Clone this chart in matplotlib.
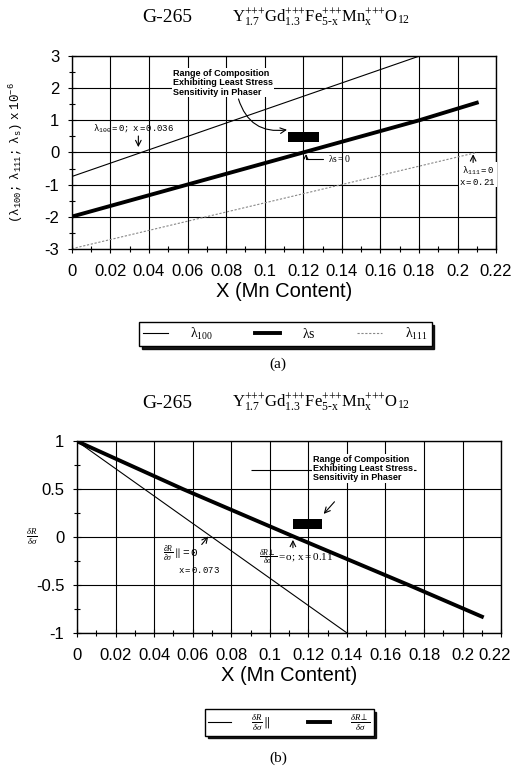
import numpy as np
import matplotlib.pyplot as plt
import matplotlib.transforms as mtransforms
from matplotlib.lines import Line2D
from matplotlib.ticker import FormatStrFormatter

plt.rcParams['font.family'] = ['Liberation Sans', 'DejaVu Sans']
plt.rcParams['mathtext.fontset'] = 'custom'
plt.rcParams['mathtext.rm'] = 'Liberation Serif'
plt.rcParams['mathtext.it'] = 'Liberation Serif:italic'
plt.rcParams['mathtext.bf'] = 'Liberation Serif:bold'
plt.rcParams['mathtext.tt'] = 'Liberation Mono'
plt.rcParams['mathtext.sf'] = 'Liberation Sans'

# (a) magnetostriction constants vs Mn content
x_l100 = [0.0, 0.18]
l100 = [-0.75, 3.0]
x_ls = [0.0, 0.06, 0.12, 0.18, 0.21]
ls = [-2.0, -1.0, 0.0, 1.0, 1.55]
x_l111 = [0.0, 0.21]
l111 = [-3.0, 0.0]
range_a_x = [0.112, 0.128]
range_a_y = [0.33, 0.64]

# (b) stress sensitivity vs Mn content
x_par = [0.0, 0.14]
dr_par = [1.0, -1.0]
x_perp = [0.0, 0.055, 0.113, 0.172, 0.21]
dr_perp = [1.0, 0.5, 0.0, -0.5, -0.83]
range_b_x = [0.112, 0.127]
range_b_y = [0.08, 0.19]

formula = (r'$\mathrm{Y^{\text{+++}}_{1.7}Gd^{\text{+++}}_{1.3}Fe^{\text{+++}}_{5\text{-}x}'
           r'Mn^{\text{+++}}_{x}O_{12}}$')
range_txt = 'Range of Composition\nExhibiting Least Stress\nSensitivity in Phaser'
narrow = ['Liberation Sans Narrow', 'Liberation Sans']

fig = plt.figure(figsize=(5.13, 7.70), dpi=100)
ax1 = fig.add_axes([0.140, 0.677, 0.827, 0.250])
ax2 = fig.add_axes([0.150, 0.178, 0.827, 0.249])


def setup(ax, ylim, ymajor, yminor):
    ax.set_xlim(0, 0.22)
    ax.set_ylim(*ylim)
    ax.set_xticks(np.arange(0, 0.2201, 0.02))
    ax.set_xticks(np.arange(0.01, 0.22, 0.02), minor=True)
    ax.set_yticks(ymajor)
    ax.set_yticks(yminor, minor=True)
    ax.xaxis.set_major_formatter(FormatStrFormatter('%g'))
    ax.yaxis.set_major_formatter(FormatStrFormatter('%g'))
    ax.grid(which='major', color='black', lw=0.8)
    ax.tick_params(which='major', direction='inout', length=6, width=0.8,
                   labelsize=12)
    ax.tick_params(which='minor', direction='inout', length=4, width=0.8)
    ax.tick_params(axis='x', pad=8)
    ax.tick_params(axis='y', pad=6)
    for s in ax.spines.values():
        s.set_linewidth(1.0)
    ax.set_xlabel('X (Mn Content)', fontsize=14.5, labelpad=2)


# ---- panel (a) ----
setup(ax1, (-3, 3), np.arange(-3, 3.1, 1), np.arange(-2.5, 3, 1))
ax1.plot(x_l100, l100, color='black', lw=0.8)
ax1.plot(x_ls, ls, color='black', lw=2.8)
ax1.plot(x_l111, l111, color='#888888', lw=0.8, ls=(0, (2, 1.5)))
ax1.fill_between(range_a_x, range_a_y[0], range_a_y[1], color='black', lw=0)

ax1.text(0.0524, 2.6, range_txt, fontsize=6.5, fontweight='bold', family=narrow,
         va='top', ha='left', linespacing=1.05,
         bbox=dict(fc='white', ec='none', pad=0.5))
ax1.annotate('', xy=(0.113, 0.72), xytext=(0.086, 1.75),
             arrowprops=dict(arrowstyle='->', color='black', lw=0.8,
                             connectionstyle='arc3,rad=0.45'))
ax1.text(0.0322, 0.76, r'$\mathtt{\lambda_{100}=0;\ x=0.036}$', fontsize=6.5,
         ha='center', va='center')
ax1.annotate('', xy=(0.0345, 0.08), xytext=(0.0345, 0.6),
             arrowprops=dict(arrowstyle='->', color='black', lw=0.8))
ax1.annotate(r'$\mathrm{\lambda s=0}$', xy=(0.1214, 0.04), xytext=(0.133, -0.19),
             fontsize=7, ha='left', va='center',
             arrowprops=dict(arrowstyle='->', color='black', lw=0.8,
                             connectionstyle='angle,angleA=0,angleB=90,rad=0'))
ax1.text(0.2105, -0.72, r'$\mathtt{\lambda_{111}=0}$' + '\n' + r'$\mathtt{x=0.21}$',
         fontsize=6.5, ha='center', va='center', linespacing=1.0,
         bbox=dict(fc='white', ec='none', pad=0.3))
ax1.annotate('', xy=(0.2081, 0.03), xytext=(0.2081, -0.4),
             arrowprops=dict(arrowstyle='->', color='black', lw=0.8))

ax1.set_ylabel(r'$\mathtt{(\lambda_{100};\ \lambda_{111};\ \lambda_{s})\ x\ 10^{-6}}$',
               fontsize=9, labelpad=14)

leg_a = [Line2D([], [], color='black', lw=0.8),
         Line2D([], [], color='black', lw=2.8),
         Line2D([], [], color='#888888', lw=0.8, ls=(0, (2, 1.5)))]
fig.legend(leg_a, [r'$\mathrm{\lambda_{100}}$', r'$\mathrm{\lambda s}$',
                   r'$\mathrm{\lambda_{111}}$'],
           loc='center', bbox_to_anchor=(0.556, 0.566), ncol=3, fontsize=10,
           frameon=True, fancybox=False, edgecolor='black', handlelength=1.8,
           handletextpad=1.6, columnspacing=3.0, borderpad=0.3,
           shadow={'color': 'black', 'alpha': 0.9})

# ---- panel (b) ----
setup(ax2, (-1, 1), np.arange(-1, 1.01, 0.5), np.arange(-0.75, 1, 0.5))
ax2.plot(x_par, dr_par, color='black', lw=0.8)
ax2.plot(x_perp, dr_perp, color='black', lw=2.8)
ax2.fill_between(range_b_x, range_b_y[0], range_b_y[1], color='black', lw=0)

# last x tick label nudged inward so it stays on the canvas
fig.canvas.draw()
last = ax2.get_xticklabels()[-1]
last.set_transform(last.get_transform() +
                   mtransforms.ScaledTranslation(-5 / 72, 0, fig.dpi_scale_trans))

ax2.hlines(0.70, 0.09, 0.176, color='black', lw=0.8)
ax2.text(0.1225, 0.86, range_txt, fontsize=6.5, fontweight='bold', family=narrow,
         va='top', ha='left', linespacing=1.05,
         bbox=dict(fc='white', ec='none', pad=0.5))
ax2.annotate('', xy=(0.127, 0.22), xytext=(0.1345, 0.39),
             arrowprops=dict(arrowstyle='->', color='black', lw=0.8))
ax2.text(0.054, -0.17, r'$\frac{\partial R}{\partial \sigma}\parallel\!\mathtt{=0}$',
         fontsize=8, ha='center', va='center')
ax2.text(0.063, -0.34, r'$\mathtt{x=0.073}$', fontsize=6.5, ha='center', va='center')
ax2.annotate('', xy=(0.069, 0.03), xytext=(0.0638, -0.1),
             arrowprops=dict(arrowstyle='->', color='black', lw=0.8))
ax2.text(0.0945, -0.2, r'$\frac{\delta R\perp}{\delta \sigma}\mathrm{=o;\,x=0.11}$',
         fontsize=8, ha='left', va='center')
ax2.annotate('', xy=(0.112, 0.0), xytext=(0.112, -0.14),
             arrowprops=dict(arrowstyle='->', color='black', lw=0.8))

fig.text(32 / 513, 1 - 537 / 770, r'$\frac{\delta R}{\delta \sigma}$', fontsize=9,
         ha='center', va='center')

leg_b = [Line2D([], [], color='black', lw=0.8),
         Line2D([], [], color='black', lw=2.8)]
fig.legend(leg_b, [r'$\frac{\delta R}{\delta \sigma}\parallel$',
                   r'$\frac{\delta R\perp}{\delta \sigma}$'],
           loc='center', bbox_to_anchor=(0.564, 0.062), ncol=2, fontsize=9,
           frameon=True, fancybox=False, edgecolor='black', handlelength=1.8,
           handletextpad=1.6, columnspacing=3.0, borderpad=0.25,
           shadow={'color': 'black', 'alpha': 0.9})

# titles and panel tags
for ty in (18, 403):
    fig.text(167 / 513, 1 - ty / 770, 'G-265', family='Liberation Serif',
             fontsize=14, ha='center', va='center')
    fig.text(232 / 513, 1 - ty / 770, formula, fontsize=12, ha='left',
             va='center')
fig.text(278 / 513, 1 - 364 / 770, '(a)', family='Liberation Serif', fontsize=11,
         ha='center', va='center')
fig.text(278 / 513, 1 - 758 / 770, '(b)', family='Liberation Serif', fontsize=11,
         ha='center', va='center')

fig.savefig('out.png', dpi=100, facecolor='white')
